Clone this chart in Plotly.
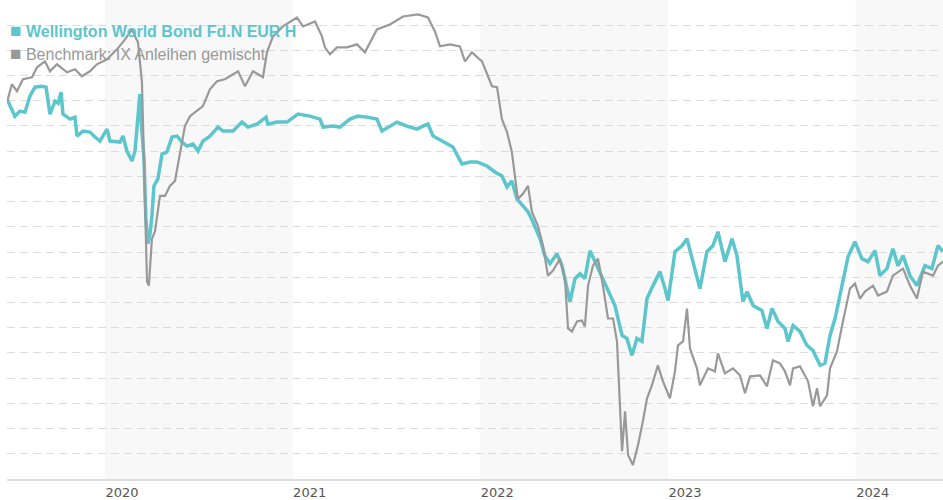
import plotly.graph_objects as go

# ---- data (x in decimal years, y = index level) ----
fund_name = "Wellington World Bond Fd.N EUR H"
bench_name = "Benchmark: IX Anleihen gemischt"

fund_x = [2019.478, 2019.520, 2019.547, 2019.574, 2019.600, 2019.627, 2019.664, 2019.686, 2019.707, 2019.734,
          2019.750, 2019.766, 2019.776, 2019.814, 2019.840, 2019.851, 2019.883, 2019.920, 2019.947, 2019.973,
          2020.011, 2020.027, 2020.080, 2020.096, 2020.117, 2020.144, 2020.160, 2020.176, 2020.186, 2020.192,
          2020.208, 2020.218, 2020.229, 2020.240, 2020.250, 2020.261, 2020.282, 2020.304, 2020.330, 2020.357,
          2020.384, 2020.410, 2020.437, 2020.469, 2020.496, 2020.522, 2020.559, 2020.602, 2020.629, 2020.682,
          2020.730, 2020.762, 2020.810, 2020.858, 2020.868, 2020.916, 2020.970, 2021.028, 2021.092, 2021.146,
          2021.162, 2021.215, 2021.252, 2021.305, 2021.348, 2021.396, 2021.449, 2021.476, 2021.518, 2021.556,
          2021.609, 2021.662, 2021.694, 2021.721, 2021.748, 2021.801, 2021.854, 2021.902, 2021.945, 2021.982,
          2022.035, 2022.078, 2022.115, 2022.142, 2022.168, 2022.195, 2022.227, 2022.254, 2022.280, 2022.318,
          2022.344, 2022.371, 2022.408, 2022.435, 2022.462, 2022.478, 2022.504, 2022.531, 2022.557, 2022.584,
          2022.621, 2022.653, 2022.691, 2022.717, 2022.755, 2022.781, 2022.808, 2022.834, 2022.861, 2022.888,
          2022.920, 2022.957, 2022.984, 2023.000, 2023.037, 2023.074, 2023.101, 2023.133, 2023.170, 2023.207,
          2023.239, 2023.266, 2023.303, 2023.341, 2023.367, 2023.399, 2023.421, 2023.453, 2023.500, 2023.527,
          2023.554, 2023.586, 2023.623, 2023.639, 2023.666, 2023.703, 2023.740, 2023.772, 2023.810, 2023.836,
          2023.863, 2023.890, 2023.927, 2023.959, 2023.996, 2024.033, 2024.065, 2024.103, 2024.129, 2024.166,
          2024.198, 2024.225, 2024.252, 2024.289, 2024.326, 2024.369, 2024.406, 2024.438, 2024.465]
fund_y = [381, 364, 369, 368, 384, 393, 394, 393, 366, 379,
          377, 388, 366, 361, 363, 344, 349, 348, 343, 339,
          351, 339, 338, 344, 329, 319, 329, 361, 386, 361,
          321, 261, 236, 246, 264, 294, 301, 326, 328, 343,
          344, 338, 334, 336, 329, 339, 344, 353, 349, 349,
          358, 353, 356, 363, 356, 358, 358, 366, 364, 361,
          353, 354, 353, 361, 364, 363, 361, 349, 354, 358,
          354, 351, 354, 356, 344, 338, 333, 316, 318, 318,
          314, 308, 304, 293, 299, 281, 274, 268, 258, 241,
          224, 216, 226, 214, 191, 178, 201, 206, 201, 229,
          214, 201, 184, 174, 144, 141, 124, 141, 138, 181,
          194, 208, 191, 179, 228, 234, 241, 218, 191, 228,
          234, 248, 218, 241, 224, 178, 188, 174, 169, 151,
          171, 158, 151, 138, 154, 148, 134, 129, 114, 116,
          144, 161, 194, 223, 238, 221, 218, 229, 204, 211,
          231, 214, 224, 204, 194, 214, 211, 234, 228]

bench_x = [2019.478, 2019.504, 2019.531, 2019.563, 2019.611, 2019.638, 2019.680, 2019.707, 2019.744, 2019.798,
           2019.840, 2019.877, 2019.920, 2019.957, 2020.011, 2020.064, 2020.107, 2020.144, 2020.160, 2020.176,
           2020.197, 2020.208, 2020.218, 2020.224, 2020.234, 2020.250, 2020.266, 2020.293, 2020.320, 2020.346,
           2020.373, 2020.400, 2020.426, 2020.453, 2020.490, 2020.522, 2020.559, 2020.597, 2020.639, 2020.682,
           2020.709, 2020.746, 2020.789, 2020.815, 2020.842, 2020.863, 2020.895, 2020.948, 2021.023, 2021.055,
           2021.119, 2021.156, 2021.172, 2021.199, 2021.236, 2021.289, 2021.343, 2021.385, 2021.449, 2021.518,
           2021.588, 2021.668, 2021.721, 2021.758, 2021.785, 2021.838, 2021.891, 2021.918, 2021.955, 2022.009,
           2022.035, 2022.062, 2022.089, 2022.115, 2022.142, 2022.168, 2022.184, 2022.200, 2022.227, 2022.254,
           2022.275, 2022.307, 2022.334, 2022.360, 2022.387, 2022.424, 2022.451, 2022.467, 2022.488, 2022.515,
           2022.541, 2022.557, 2022.574, 2022.600, 2022.627, 2022.653, 2022.680, 2022.707, 2022.728, 2022.744,
           2022.755, 2022.771, 2022.787, 2022.813, 2022.840, 2022.866, 2022.888, 2022.914, 2022.946, 2022.973,
           2023.010, 2023.037, 2023.053, 2023.080, 2023.101, 2023.117, 2023.154, 2023.170, 2023.213, 2023.250,
           2023.266, 2023.303, 2023.346, 2023.383, 2023.410, 2023.437, 2023.490, 2023.527, 2023.559, 2023.596,
           2023.623, 2023.650, 2023.666, 2023.703, 2023.746, 2023.772, 2023.794, 2023.810, 2023.847, 2023.863,
           2023.900, 2023.932, 2023.969, 2023.996, 2024.023, 2024.049, 2024.092, 2024.119, 2024.166, 2024.198,
           2024.252, 2024.289, 2024.326, 2024.358, 2024.412, 2024.438, 2024.465]
bench_y = [378, 396, 389, 401, 403, 413, 419, 409, 416, 408,
           411, 404, 409, 416, 421, 431, 441, 451, 444, 438,
           398, 321, 251, 198, 194, 241, 248, 284, 284, 294,
           299, 328, 354, 364, 369, 374, 391, 399, 401, 406,
           409, 394, 409, 406, 403, 428, 444, 454, 463, 454,
           459, 444, 433, 426, 433, 433, 436, 428, 451, 456,
           464, 466, 463, 449, 434, 436, 434, 419, 428, 419,
           406, 394, 393, 361, 348, 328, 304, 281, 286, 294,
           268, 254, 234, 204, 209, 221, 201, 151, 148, 158,
           159, 153, 194, 214, 221, 194, 161, 161, 138, 81,
           28, 68, 24, 14, 34, 58, 81, 94, 114, 98,
           81, 108, 134, 138, 171, 131, 111, 94, 111, 108,
           126, 106, 111, 104, 86, 103, 104, 93, 119, 116,
           108, 94, 111, 113, 98, 73, 91, 73, 84, 111,
           128, 158, 191, 196, 181, 188, 194, 184, 188, 204,
           211, 194, 181, 208, 204, 214, 218]

year_ticks = [2020, 2021, 2022, 2023, 2024]
year_labels = ["2020", "2021", "2022", "2023", "2024"]
shaded_years = [2020, 2022, 2024]

FUND_COLOR = "#5cc6cc"
BENCH_COLOR = "#999999"

x_min = min(fund_x[0], bench_x[0])
x_max = max(fund_x[-1], bench_x[-1])

fig = go.Figure()
fig.add_trace(go.Scatter(x=fund_x, y=fund_y, mode="lines", name=fund_name,
                         line=dict(color=FUND_COLOR, width=3.5), showlegend=False))
fig.add_trace(go.Scatter(x=bench_x, y=bench_y, mode="lines", name=bench_name,
                         line=dict(color=BENCH_COLOR, width=2.2), showlegend=False))

shapes = []
for yr in shaded_years:
    shapes.append(dict(type="rect", xref="x", yref="paper", x0=yr, x1=min(yr + 1, x_max),
                       y0=0, y1=1, fillcolor="#f8f8f8", line=dict(width=0), layer="below"))

annotations = [
    dict(xref="paper", yref="paper", x=0, y=1, xanchor="left", yanchor="top", xshift=1, yshift=-18,
         showarrow=False, align="left",
         text="<span style='font-size:19px'>■</span> <b>" + fund_name + "</b>",
         font=dict(family="Liberation Sans, Arial, sans-serif", size=16, color=FUND_COLOR)),
    dict(xref="paper", yref="paper", x=0, y=1, xanchor="left", yanchor="top", xshift=1, yshift=-41,
         showarrow=False, align="left",
         text="<span style='font-size:19px'>■</span> " + bench_name,
         font=dict(family="Liberation Sans, Arial, sans-serif", size=16, color=BENCH_COLOR)),
]

fig.update_layout(
    width=943, height=500,
    margin=dict(l=7, r=0, t=0, b=19),
    paper_bgcolor="white", plot_bgcolor="white",
    shapes=shapes, annotations=annotations,
    showlegend=False,
    xaxis=dict(range=[x_min, x_max], tickmode="array", tickvals=year_ticks, ticktext=year_labels,
               showgrid=False, zeroline=False, showline=True, linecolor="#dddddd", linewidth=2,
               ticks="", ticklabelshift=17, ticklabelstandoff=0,
               tickfont=dict(family="DejaVu Sans", size=13, color="#555555")),
    yaxis=dict(range=[0, 480.5], tick0=0, dtick=25.3, showticklabels=False, zeroline=False,
               showgrid=True, gridcolor="#dcdcdc", gridwidth=1, griddash="8px,5px", showline=False),
)

fig.write_html("out.html", config={"displayModeBar": False},
               post_script="document.body.style.margin='0';document.body.style.overflow='hidden';")
